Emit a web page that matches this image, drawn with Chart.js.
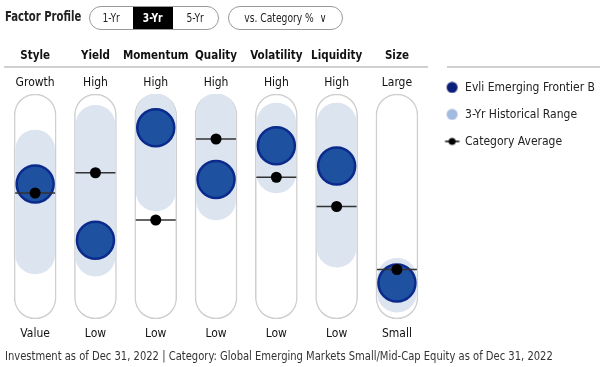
<!DOCTYPE html>
<html>
<head>
<meta charset="utf-8">
<script src="https://cdn.jsdelivr.net/npm/chart.js@4.4.0/dist/chart.umd.min.js"></script>
<style>
  body { margin: 0; width: 600px; height: 367px; position: relative; background: #fff; overflow: hidden;
         font-family: "DejaVu Sans Condensed", "Liberation Sans", sans-serif; color: #222; }
  #chart { position: absolute; left: 0; top: 0; }
  .title { position: absolute; left: 5px; top: 8px; font-size: 14px; font-weight: bold; color: #222;
           transform: scaleX(0.8); transform-origin: left top; white-space: nowrap; }
  .pill { position: absolute; top: 6px; height: 22px; border: 1.5px solid #999; border-radius: 12px; font-size: 12px;
          display: flex; align-items: center; box-sizing: content-box; overflow: hidden; }
  .seg { height: 100%; display: flex; align-items: center; justify-content: center; }
  .seg span, .pill > span { display: inline-block; transform: scaleX(0.85); }
  .seg.on { background: #000; color: #fff; font-weight: bold; }
  .rule { position: absolute; left: 447px; width: 153px; top: 66px; height: 2px; background: #d0d0d0; }
  .foot { position: absolute; left: 5px; top: 349px; font-size: 12px; color: #333; white-space: nowrap;
          transform: scaleX(0.925); transform-origin: left top; }
</style>
</head>
<body>
<canvas id="chart" width="600" height="367"></canvas>
<div class="title">Factor Profile</div>
<div class="pill" style="left:89px;width:128px;">
  <div class="seg" style="width:43px;"><span>1-Yr</span></div>
  <div class="seg on" style="width:40px;"><span>3-Yr</span></div>
  <div class="seg" style="width:45px;"><span>5-Yr</span></div>
</div>
<div class="pill" style="left:228px;width:113px;justify-content:center;"><span>vs. Category %&nbsp;&nbsp;∨</span></div>
<div class="rule"></div>
<div class="foot">Investment as of Dec 31, 2022 | Category: Global Emerging Markets Small/Mid-Cap Equity as of Dec 31, 2022</div>

<script>
// valores (escala 0-100 dentro del tubo)
const factors = ["Style", "Yield", "Momentum", "Quality", "Volatility", "Liquidity", "Size"];
const topLabels = ["Growth", "High", "High", "High", "High", "High", "Large"];
const bottomLabels = ["Value", "Low", "Low", "Low", "Low", "Low", "Small"];
const fundValues = [60, 35, 85, 62, 77, 68, 16];
const categoryAvg = [56, 65, 44, 80, 63, 50, 22];
const rangeLow = [20, 19, 48, 44, 56, 23, 3];
const rangeHigh = [84, 95, 100, 100, 96, 96, 27];
const legendNames = ["Evli Emerging Frontier B", "3-Yr Historical Range", "Category Average"];

const FONT = "'DejaVu Sans Condensed', 'Liberation Sans', sans-serif";

// iconos de la leyenda (dibujados un poco a la derecha del centro)
function legendIcon(kind) {
  const c = document.createElement("canvas");
  c.width = 18; c.height = 12;
  const g = c.getContext("2d");
  if (kind === "line") {
    g.strokeStyle = "#000"; g.lineWidth = 1.5;
    g.beginPath(); g.moveTo(3.5, 6); g.lineTo(17.5, 6); g.stroke();
    g.fillStyle = "#000"; g.beginPath(); g.arc(10.5, 6, 3.5, 0, Math.PI * 2); g.fill();
  } else {
    g.fillStyle = kind;
    g.beginPath(); g.arc(10.5, 6, 5.5, 0, Math.PI * 2); g.fill();
  }
  return c;
}
const icons = [legendIcon("#0b1f7a"), legendIcon("#a3bbdf"), legendIcon("line")];

const tubes = factors.map(() => [0, 100]);
const ranges = rangeLow.map((v, i) => [v, rangeHigh[i]]);

const tickFont = { family: FONT, size: 12 };
const fixAxis = (h) => (s) => { s.paddingLeft = 0; s.paddingRight = 0; s.height = h; };

new Chart(document.getElementById("chart"), {
  type: "bar",
  data: {
    labels: bottomLabels,
    datasets: [
      {
        label: "tube", data: tubes, grouped: false, barThickness: 42,
        backgroundColor: "#ffffff", borderColor: "#cfcfcf", borderWidth: 1.5,
        borderRadius: 21, borderSkipped: false, order: 5
      },
      {
        label: legendNames[1], data: ranges, grouped: false, barThickness: 39,
        backgroundColor: "#dce4f0", borderWidth: 0,
        borderRadius: 20, borderSkipped: false, order: 4
      },
      {
        type: "line", label: legendNames[0], data: fundValues, showLine: false,
        pointRadius: 18.5, pointHoverRadius: 18.5, pointBackgroundColor: "#1e52a0",
        pointBorderColor: "#0a2a8c", pointBorderWidth: 2.5, order: 3
      },
      {
        type: "line", label: "avgline", data: categoryAvg, showLine: false,
        pointStyle: "line", pointRadius: 20, pointHoverRadius: 20,
        pointBorderColor: "#333", pointBorderWidth: 1.5, order: 2
      },
      {
        type: "line", label: legendNames[2], data: categoryAvg, showLine: false,
        pointRadius: 5.5, pointHoverRadius: 5.5, pointBackgroundColor: "#000",
        pointBorderWidth: 0, order: 1
      }
    ]
  },
  options: {
    responsive: false,
    animation: false,
    layout: { autoPadding: false, padding: { left: 5, top: 48, bottom: 26, right: -5 } },
    scales: {
      x: {
        position: "bottom",
        grid: { display: false, drawTicks: false }, border: { display: false },
        afterFit: fixAxis(22),
        ticks: { padding: 8, color: "#111", maxRotation: 0, autoSkip: false, font: tickFont }
      },
      xTop: {
        type: "category", position: "top", labels: topLabels,
        grid: { display: false, drawTicks: false }, border: { display: false },
        afterFit: fixAxis(27),
        ticks: { padding: 4, color: "#111", maxRotation: 0, autoSkip: false, font: tickFont }
      },
      xHead: {
        type: "category", position: "top", labels: factors,
        grid: { display: false, drawTicks: false }, border: { display: true, color: "#d0d0d0", width: 2 },
        afterFit: fixAxis(19),
        ticks: { padding: 4, color: "#111", maxRotation: 0, autoSkip: false,
                 font: { family: FONT, size: 11.5, weight: "bold" } }
      },
      y: { display: false, min: 0, max: 100 }
    },
    plugins: {
      tooltip: { enabled: false },
      legend: {
        position: "right", align: "start",
        title: { display: true, text: "", padding: 2 },
        labels: {
          usePointStyle: true, pointStyleWidth: 17, boxHeight: 12, padding: 15,
          color: "#222", font: { family: FONT, size: 12 },
          generateLabels: () => legendNames.map((t, i) => ({
            text: t, pointStyle: icons[i], fillStyle: "#000", strokeStyle: "#000",
            fontColor: "#222", lineWidth: 0, hidden: false, datasetIndex: i
          }))
        }
      }
    }
  }
});
</script>
</body>
</html>
